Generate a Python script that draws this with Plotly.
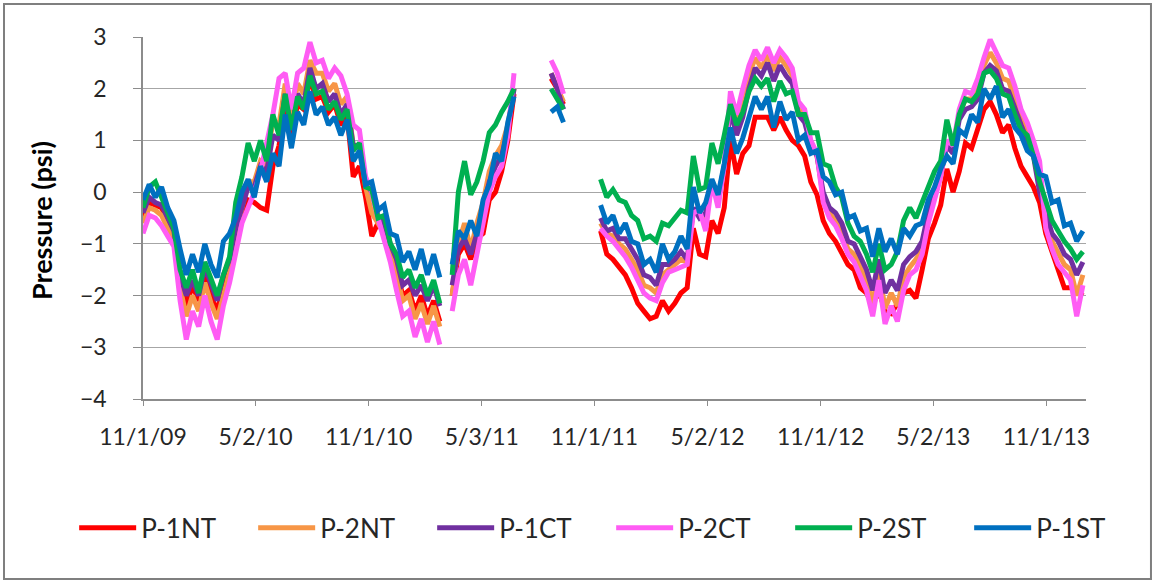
import pandas as pd
import plotly.graph_objects as go

N = None

# readings every 10 days from 11/1/09; None where the loggers had no data
dates = pd.date_range("2009-11-01", periods=153, freq="10D")

p1nt = [-0.5, -0.2, -0.25, -0.3, -0.55, -0.8, -1.7, -2.2, -1.8, -2.1,
        -1.6, -2.0, -2.3, -1.8, -1.4, -0.8, -0.4, -0.15, -0.2, -0.3,
        -0.35, 0.5, 0.9, 1.7, 1.1, 1.7, 1.6, 2.2, 1.8, 1.85,
        1.55, 1.7, 1.3, 1.5, 0.3, 0.5, -0.1, -0.85, -0.6, -0.8,
        -1.2, -1.5, -2.0, -1.9, -2.3, -2.0, -2.4, -2.1, -2.5, N,
        -2.0, -1.2, -1.0, -1.3, -0.9, -0.8, -0.15, 0.0, 0.4, 1.0,
        1.9, N, N, N, N, N, 2.2, 2.0, 1.7, N,
        N, N, N, N, -0.75, -1.2, -1.3, -1.45, -1.6, -1.85,
        -2.15, -2.3, -2.45, -2.4, -2.1, -2.3, -2.15, -1.95, -1.85, -0.7,
        -1.2, -1.25, -0.55, -0.8, -0.3, 1.0, 0.35, 0.75, 0.9, 1.45,
        1.45, 1.45, 1.2, 1.45, 1.2, 1.0, 0.9, 0.7, 0.2, -0.05,
        -0.55, -0.8, -0.95, -1.2, -1.4, -1.5, -1.85, -1.95, -2.2, -1.9,
        -2.3, -2.35, -2.15, -1.95, -1.9, -2.05, -1.5, -0.9, -0.6, -0.25,
        0.45, 0.0, 0.4, 0.95, 0.85, 1.2, 1.6, 1.75, 1.5, 1.15,
        1.3, 0.85, 0.5, 0.3, 0.1, -0.2, -0.8, -1.15, -1.5, -1.85,
        -1.85, -1.9, -2.0]

p2nt = [-0.6, -0.3, -0.35, -0.45, -0.7, -0.9, -1.85, -2.4, -2.0, -2.3,
        -1.75, -2.15, -2.45, -1.95, -1.55, -0.8, -0.3, 0.2, 0.2, 0.6,
        0.5, 1.4, 1.3, 2.1, 1.4, 2.1, 1.9, 2.55, 2.3, 2.3,
        1.95, 2.1, 1.7, 1.85, 0.9, 0.9, 0.1, -0.4, -0.6, -0.8,
        -1.2, -1.6, -2.1, -2.0, -2.45, -2.15, -2.55, -2.2, -2.6, N,
        -2.0, -1.0, -0.6, -1.1, -0.6, -0.2, 0.4, 0.7, 0.9, 1.3,
        2.0, N, N, N, N, N, 2.3, 2.05, 1.75, N,
        N, N, N, N, -0.6, -0.8, -0.85, -1.0, -1.1, -1.3,
        -1.5, -1.8, -1.85, -1.95, -1.6, -1.5, -1.4, -1.3, -1.35, -0.35,
        -0.45, -0.55, 0.2, -0.2, 0.5, 1.8, 1.3, 1.75, 2.25, 2.6,
        2.4, 2.65, 2.35, 2.6, 2.45, 2.25, 1.6, 1.5, 0.95, 0.7,
        -0.1, -0.4, -0.55, -0.75, -1.1, -1.2, -1.45, -1.7, -2.15, -1.5,
        -2.25, -1.95, -2.2, -1.65, -1.45, -1.3, -1.1, -0.5, -0.1, 0.3,
        0.95, 0.8, 1.5, 1.8, 1.8, 2.0, 2.45, 2.7, 2.5, 2.2,
        2.15, 1.8, 1.45, 1.2, 0.85, 0.3, -0.55, -0.95, -1.2, -1.4,
        -1.5, -2.0, -1.6]

p1ct = [-0.4, -0.1, -0.2, -0.25, -0.5, -0.75, -1.6, -2.0, -1.7, -2.0,
        -1.45, -1.8, -2.1, -1.6, -1.3, -0.7, -0.3, 0.1, 0.1, 0.5,
        0.4, 1.1, 1.0, 1.9, 1.2, 1.9, 1.7, 2.4, 2.0, 2.1,
        1.75, 1.9, 1.5, 1.7, 0.9, 0.9, 0.2, 0.0, -0.45, -0.6,
        -1.0, -1.3, -1.8, -1.7, -2.0, -1.8, -2.1, -1.8, -2.2, N,
        -1.8, -1.1, -0.9, -1.2, -0.8, -0.3, 0.2, 0.5, 0.7, 1.2,
        2.0, N, N, N, N, N, 2.3, 2.0, 1.6, N,
        N, N, N, N, -0.5, -0.75, -0.7, -0.9, -0.9, -1.1,
        -1.3, -1.6, -1.65, -1.8, -1.4, -1.4, -1.3, -1.15, -1.3, -0.3,
        -0.5, -0.4, 0.15, -0.1, 0.5, 1.6, 1.1, 1.45, 2.0, 2.4,
        2.25, 2.5, 2.15, 2.45, 2.25, 2.1, 1.5, 1.35, 0.9, 0.7,
        0.0, -0.3, -0.4, -0.6, -0.95, -1.0, -1.25, -1.5, -1.9, -1.3,
        -1.95, -1.7, -1.9, -1.4, -1.25, -1.15, -0.95, -0.4, 0.0, 0.35,
        0.9, 0.75, 1.4, 1.6, 1.65, 1.8, 2.3, 2.45, 2.35, 2.0,
        1.95, 1.6, 1.3, 1.0, 0.7, 0.0, -0.4, -0.8, -0.95, -1.2,
        -1.3, -1.6, -1.35]

p2ct = [-0.8, -0.45, -0.5, -0.65, -0.85, -1.05, -2.1, -2.85, -2.3, -2.6,
        -2.0, -2.5, -2.85, -2.2, -1.75, -1.15, -0.6, -0.3, 0.0, 0.4,
        0.9, 1.5, 2.2, 2.3, 1.6, 2.3, 2.4, 2.9, 2.5, 2.55,
        2.2, 2.4, 2.25, 1.9, 1.3, 1.2, 0.3, 0.0, -0.5, -0.95,
        -1.35, -1.9, -2.4, -2.3, -2.8, -2.45, -2.9, -2.5, -2.95, N,
        -2.3, -1.6, -1.3, -1.8, -1.2, -0.6, 0.0, 0.3, 0.5, 1.1,
        2.3, N, N, N, N, N, 2.55, 2.3, 1.9, N,
        N, N, N, N, -0.7, -0.85, -0.95, -1.1, -1.25, -1.45,
        -1.7, -1.95, -2.05, -2.1, -1.75, -1.55, -1.5, -1.45, -1.4, -0.4,
        -0.35, -0.75, 0.2, -0.3, 0.5, 1.95, 1.5, 2.0, 2.45, 2.75,
        2.55, 2.8, 2.5, 2.75, 2.6, 2.4, 1.75, 1.6, 1.0, 0.75,
        -0.2, -0.5, -0.65, -0.9, -1.2, -1.35, -1.6, -1.9, -2.4, -1.7,
        -2.55, -2.2, -2.5, -1.9, -1.6, -1.5, -1.2, -0.6, -0.15, 0.3,
        1.0, 0.9, 1.6, 1.95, 1.9, 2.2, 2.6, 2.95, 2.7, 2.45,
        2.4, 2.05, 1.6, 1.35, 1.0, 0.6, -0.7, -1.1, -1.4, -1.55,
        -1.7, -2.4, -1.8]

p2st = [-0.3, 0.1, 0.2, -0.1, -0.35, -0.7, -1.5, -1.85, -1.5, -1.95,
        -1.35, -1.7, -2.0, -1.6, -1.25, -0.2, 0.3, 0.95, 0.6, 1.0,
        0.6, 1.5, 1.1, 1.9, 1.2, 1.85, 1.6, 2.25, 1.9, 1.95,
        1.6, 1.75, 1.4, 1.6, 0.8, 0.95, 0.1, 0.05, -0.5, -0.45,
        -1.0, -1.2, -1.65, -1.5, -1.85, -1.6, -2.0, -1.7, -2.15, N,
        -1.6, 0.0, 0.6, -0.05, 0.2, 0.6, 1.15, 1.3, 1.55, 1.75,
        2.0, N, N, N, N, N, 2.0, 1.8, 1.6, N,
        N, N, N, N, 0.25, -0.1, 0.05, -0.15, -0.2, -0.45,
        -0.55, -0.9, -0.85, -0.95, -0.6, -0.65, -0.5, -0.35, -0.4, 0.7,
        0.05, 0.1, 0.95, 0.55, 1.1, 1.7, 1.3, 1.55, 1.95, 2.2,
        2.05, 2.2, 1.75, 2.15, 1.9, 1.95, 1.5, 1.5, 1.15, 1.15,
        0.55, 0.5, 0.1, -0.1, -0.6, -0.85, -0.95, -1.2, -1.55, -1.0,
        -1.5, -1.4, -1.15, -0.55, -0.3, -0.5, -0.2, 0.1, 0.4, 0.6,
        1.4, 0.9, 1.5, 1.8, 1.75, 1.9, 2.3, 2.35, 2.2, 1.9,
        1.85, 1.5, 1.2, 1.1, 0.7, 0.2, -0.15, -0.55, -0.75, -0.95,
        -1.1, -1.3, -1.15]

p1st = [-0.15, 0.15, -0.1, 0.1, -0.3, -0.55, -1.1, -1.6, -1.2, -1.55,
        -1.0, -1.4, -1.65, -0.95, -0.8, -0.5, 0.0, 0.25, -0.1, 0.5,
        0.2, 0.75, 0.5, 1.5, 0.85, 1.55, 1.3, 1.95, 1.5, 1.65,
        1.3, 1.45, 1.1, 1.4, 0.6, 0.8, 0.15, 0.2, -0.35, -0.25,
        -0.8, -0.85, -1.35, -1.15, -1.5, -1.1, -1.6, -1.2, -1.65, N,
        -1.4, -0.75, -0.9, -0.55, -0.85, -0.15, 0.15, 0.75, 0.6, 1.35,
        1.85, N, N, N, N, N, 1.55, 1.65, 1.35, N,
        N, N, N, N, -0.25, -0.6, -0.45, -0.8, -0.6, -0.95,
        -1.0, -1.4, -1.3, -1.55, -1.0, -1.3, -1.15, -0.85, -1.1, 0.1,
        -0.4, -0.2, 0.25, -0.05, 0.55, 1.25, 0.75, 1.05, 1.45, 1.85,
        1.6, 1.85, 1.25, 1.75, 1.4, 1.55, 1.0, 1.1, 0.75, 0.8,
        0.3, 0.2, -0.05, 0.0, -0.5, -0.45, -0.75, -0.7, -1.25, -0.7,
        -1.15, -0.9, -1.2, -0.7, -0.85, -0.65, -0.6, -0.15, 0.1, 0.45,
        0.7, 0.55, 1.2, 1.1, 1.5, 1.35, 2.0, 1.8, 2.05, 1.45,
        1.6, 1.25, 1.1, 0.8, 0.7, 0.35, 0.3, -0.2, -0.15, -0.65,
        -0.6, -0.95, -0.75]

names = ["P-1NT", "P-2NT", "P-1CT", "P-2CT", "P-2ST", "P-1ST"]
series = [p1nt, p2nt, p1ct, p2ct, p2st, p1st]
colors = ["#ff0000", "#f79646", "#7030a0", "#ff5cf4", "#00b050", "#0070c0"]

tick_dates = ["2009-11-01", "2010-05-02", "2010-11-01", "2011-05-03", "2011-11-01",
              "2012-05-02", "2012-11-01", "2013-05-02", "2013-11-01"]
tick_labels = ["11/1/09", "5/2/10", "11/1/10", "5/3/11", "11/1/11",
               "5/2/12", "11/1/12", "5/2/13", "11/1/13"]

fig = go.Figure()
for name, vals, col in zip(names, series, colors):
    fig.add_trace(go.Scatter(x=dates, y=vals, name=name, mode="lines",
                             line=dict(color=col, width=5)))

font = "Lato, Calibri, sans-serif"
fig.update_layout(
    width=1155, height=583,
    margin=dict(l=143, r=69, t=37, b=184),
    paper_bgcolor="white", plot_bgcolor="white",
    font=dict(family=font, size=23, color="#262626"),
    showlegend=True,
    # anchored left of the plot area so all six entries fit on one row
    legend=dict(orientation="h", x=-0.073, xanchor="left", y=-0.356, yanchor="middle",
                entrywidth=107, entrywidthmode="pixels", itemwidth=57,
                font=dict(size=26), bgcolor="rgba(0,0,0,0)", traceorder="normal"),
    xaxis=dict(type="date", range=["2009-11-01", "2014-01-04"],
               tickvals=tick_dates, ticktext=tick_labels,
               ticks="outside", ticklen=5, tickcolor="#8c8c8c",
               showgrid=False, showline=True, linecolor="#8c8c8c", linewidth=1.5,
               zeroline=False, ticklabelstandoff=12),
    yaxis=dict(range=[-4, 3], dtick=1, tick0=0,
               ticks="outside", ticklen=8, tickcolor="#8c8c8c",
               showgrid=True, gridcolor="#a6a6a6", gridwidth=1.3,
               showline=True, linecolor="#8c8c8c", linewidth=1.5,
               zeroline=False, ticklabelstandoff=22),
    shapes=[dict(type="rect", xref="paper", yref="paper",
                 x0=-0.1474, x1=1.0689, y0=-0.4972, y1=1.0912,
                 line=dict(color="#7f7f7f", width=2), layer="below")],
    annotations=[dict(text="<b>Pressure (psi)</b>", textangle=-90,
                      xref="paper", yref="paper", x=-0.107, y=0.492,
                      xanchor="center", yanchor="middle", showarrow=False,
                      font=dict(size=27, color="#000000"))],
)

# the page's default 8px body margin would shift the whole chart
fig.write_html("out.html", config={"displayModeBar": False},
               post_script="document.body.style.margin='0';")
